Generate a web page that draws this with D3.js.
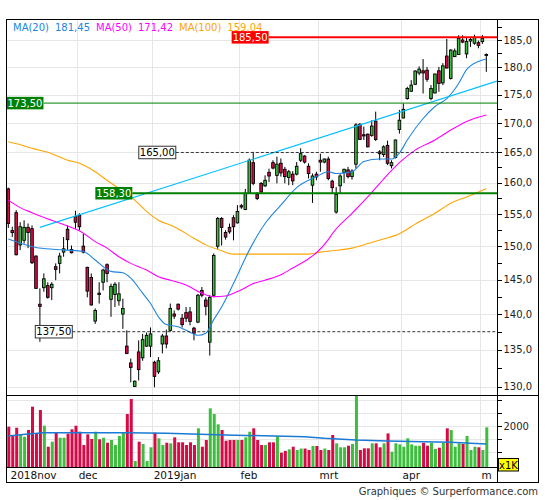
<!DOCTYPE html>
<html><head><meta charset="utf-8">
<script src="https://cdn.jsdelivr.net/npm/d3@7"></script>
<style>body{margin:0;background:#fff}svg{display:block}text{font-family:"DejaVu Sans",Verdana,sans-serif}</style>
</head><body><svg id="c" width="545" height="500"></svg>
<script>
// ---------- DATA ----------
const holidays = ["2018-12-25","2018-12-26","2019-01-01","2019-04-19","2019-04-22","2019-05-01"];
const fmtDay = d3.utcFormat("%Y-%m-%d");
const dates = d3.utcDay.range(new Date(Date.UTC(2018,10,7)), new Date(Date.UTC(2019,4,4)))
  .filter(d => d.getUTCDay() % 6 !== 0 && !holidays.includes(fmtDay(d))).map(fmtDay);

const opens  = [159.0,152.4,155.2,150.2,150.9,152.9,152.7,148.5,141.4,143.8,144.1,143.8,146.9,147.4,149.1,152.6,149.5,154.6,154.8,150.0,
146.8,145.3,139.0,143.0,144.6,147.2,142.1,142.8,141.9,140.0,135.5,133.2,130.05,134.7,133.9,135.5,135.5,133.3,132.0,135.8,
136.9,137.7,140.0,141.4,139.4,140.2,140.3,138.0,138.85,143.4,142.0,136.05,142.7,150.0,154.3,152.1,152.9,154.4,153.6,156.3,
155.7,158.3,163.3,158.1,159.9,159.5,161.7,163.3,161.2,163.2,162.2,160.85,161.4,161.4,163.7,164.4,162.7,159.6,161.4,163.7,
163.4,163.9,160.25,155.3,159.5,161.7,162.1,161.0,163.05,169.8,168.0,168.1,167.9,170.35,165.1,164.65,166.2,162.8,164.15,168.9,
170.9,174.3,175.6,176.85,178.9,179.3,179.4,174.3,175.3,179.3,177.1,182.0,177.9,181.9,182.3,185.0,182.4,184.8,184.4,184.5,
184.7,182.1];
const highs  = [159.2,153.0,155.6,153.7,154.0,153.5,153.2,148.6,143.7,145.9,144.6,144.6,147.4,149.0,151.4,153.2,150.1,155.5,155.1,151.9,
146.9,145.9,140.8,144.6,146.6,147.4,144.4,144.6,144.6,142.2,137.7,133.8,130.85,136.3,137.2,137.4,138.1,133.5,134.0,137.2,
137.8,141.5,140.5,141.5,140.0,141.0,141.0,138.2,142.9,143.9,142.4,142.7,148.9,154.5,154.5,152.45,153.5,154.8,156.4,156.6,
159.0,164.0,165.1,158.5,160.1,161.2,162.3,163.7,164.3,164.0,162.6,162.1,161.9,163.4,165.7,164.55,163.2,161.5,161.8,164.8,
164.0,164.3,160.5,159.3,161.4,162.3,162.6,162.2,170.0,170.0,169.4,168.2,170.5,172.0,165.4,166.2,167.0,163.7,167.2,172.3,
173.45,176.4,177.6,179.4,180.1,181.45,180.0,176.7,178.8,180.0,180.7,185.2,183.3,183.4,185.9,185.9,185.5,185.4,186.0,184.9,
185.95,182.5];
const lows   = [152.8,151.4,148.6,149.4,150.4,149.7,147.3,143.6,136.1,143.2,142.2,142.0,144.9,145.9,148.4,149.4,148.9,152.7,152.45,148.9,
142.4,141.2,138.6,141.5,143.4,144.6,139.6,141.0,141.2,137.9,134.4,130.6,130.0,130.85,133.5,135.4,134.0,129.95,131.7,134.5,
135.2,137.5,139.3,140.5,138.1,138.85,138.4,136.3,138.7,142.4,139.8,134.2,142.4,149.6,150.1,151.0,151.9,150.9,153.5,155.8,
155.6,158.2,159.6,157.2,158.3,159.3,160.1,162.2,159.9,161.0,159.9,159.6,159.6,161.2,163.4,163.15,160.7,156.75,160.4,161.8,
163.2,160.4,158.25,155.05,158.25,159.95,160.7,160.5,162.35,167.1,167.1,165.85,167.65,166.95,163.7,164.25,162.9,162.35,164.0,168.2,
170.8,174.1,175.5,176.7,178.5,175.2,177.3,174.0,175.2,175.5,176.7,179.7,177.7,181.8,182.2,184.4,181.6,183.7,184.1,183.45,
184.25,179.1];
const closes = [153.5,152.1,148.7,153.0,152.9,152.1,147.5,143.7,141.1,145.1,142.4,144.3,146.5,148.5,149.6,151.0,149.0,153.7,153.0,149.1,
143.3,141.3,140.5,142.8,146.4,145.9,144.0,144.3,142.9,140.8,134.5,132.6,130.75,132.3,136.4,137.0,137.2,131.4,133.5,136.9,
135.8,140.8,139.7,140.7,138.5,139.4,138.95,137.3,142.7,142.7,141.1,142.4,148.6,154.3,152.9,151.4,152.2,153.0,155.4,156.1,
158.3,163.7,159.9,157.45,158.5,160.4,161.1,162.4,163.05,161.6,161.0,161.8,160.3,162.7,164.8,163.4,161.5,161.1,160.95,163.4,
163.9,160.7,159.2,158.1,161.1,162.2,161.0,161.9,169.7,167.2,167.8,165.95,169.5,167.2,164.8,165.95,163.2,163.3,167.1,170.5,
172.4,176.1,176.7,179.25,179.6,178.9,177.75,176.1,178.7,177.0,180.2,179.8,183.1,182.95,185.3,184.6,184.7,185.1,185.5,184.0,
185.3,182.3];
const volumes = [1970,1651,1931,1651,1585,1843,2740,1712,2612,2008,1201,1393,1739,1547,1547,1701,1870,2008,1778,1266,
1678,1497,1778,1485,1547,1355,1458,1266,1612,1739,2458,3035,650,1393,1305,650,1178,1739,1524,1266,
1355,1331,1562,1370,1370,1266,1370,1266,1908,1201,1458,2678,2458,2062,1843,1431,1458,1458,1458,1458,
1562,1778,1908,1458,1266,1266,1370,1370,1600,970,1040,1100,1201,1074,1130,1130,1074,1228,1228,1074,
1130,1074,1651,1331,1178,1178,1240,1305,3150,1074,1139,1139,1331,1331,1178,1331,1712,1009,1331,1290,
1200,1524,1290,1240,1240,1350,1240,1350,1112,1162,1350,1908,1843,1200,1331,1305,1612,1074,1200,1178,
1074,1946];
// moving averages: [day index, value]
const ma20 = [[0,151.1],[7,149.8],[12,149.5],[19,149.2],[22,147.9],[26,146.2],[29,146.0],[31,145.2],[34,143.0],[36,141.5],[38,139.6],[40,138.5],[43,138.2],[45,137.7],[48,137.0],[50,137.3],[52,139.2],[54,141.0],[57,144.4],[61,149.4],[65,153.5],[69,156.4],[73,159.2],[78,161.0],[81,161.8],[83,161.5],[87,161.8],[90,163.5],[94,163.9],[97,163.9],[99,164.9],[101,167.1],[105,170.8],[108,172.9],[111,174.3],[114,177.0],[116,179.5],[119,181.0],[121,181.45]];
const ma50 = [[0,157.2],[3,156.0],[6,155.2],[11,154.0],[15,153.1],[19,152.0],[22,150.7],[25,149.7],[28,148.4],[31,147.4],[35,146.4],[38,145.4],[41,144.9],[45,144.2],[49,143.0],[52,142.5],[55,142.6],[59,143.5],[62,144.4],[65,144.9],[69,145.7],[72,146.7],[76,148.1],[78,149.0],[81,151.0],[82,151.9],[87,155.1],[91,157.7],[95,160.6],[99,163.3],[103,165.4],[108,167.1],[112,168.8],[116,170.3],[121,171.42]];
const ma100 = [[0,166.8],[3,166.3],[6,165.7],[11,164.8],[15,163.7],[18,163.2],[22,161.8],[25,160.4],[27,159.5],[32,157.2],[35,155.4],[38,154.0],[42,153.0],[47,151.2],[50,150.2],[54,149.3],[57,148.8],[62,148.8],[70,148.8],[76,148.8],[79,149.1],[82,149.3],[87,149.7],[91,150.4],[95,151.1],[99,151.9],[103,153.4],[108,155.1],[112,156.7],[116,157.7],[121,159.04]];
const volMA = [[0,1612],[5,1689],[9,1739],[30,1739],[40,1716],[55,1651],[75,1585],[80,1524],[88,1458],[96,1420],[105,1393],[112,1370],[117,1331],[121,1305]];
const trend = [[8,152.9],[121,176.8]];
const levelValues = [185.5, 173.5, 165.0, 158.3, 137.5];
const levelStart  = [65.9, 8.9, 42.4, 31.4, 16.2];
const levelKind   = ["red","green","dash","greenBold","dash"];
const monthNames = ["jan","feb","mrt","apr","mei","jun","jul","aug","sep","okt","nov","dec"];
const priceTicks = d3.range(130, 186, 5);
const volTicks = [1000,1500,2000,2500,3000];
const volLabelTicks = [2000];
const maNames = ["MA(20)","MA(50)","MA(100)"];

// ---------- CHART ----------
const svg = d3.select("#c");
const W=545, H=500, L=7, R=497, T=20, PB=395, VB=467;
const RED="#D60A46", GREEN="#3EBE3E", C20="#2085E0", C50="#FF00FF", C100="#FFA500", TREND="#00BFFF", DG="#008000";
const comma = f => v => d3.format(f)(v).replace(".", ",");

svg.append("rect").attr("width",W).attr("height",H).attr("fill","#fff");
const defs = svg.append("defs");
defs.append("clipPath").attr("id","cp").append("rect").attr("x",L).attr("y",T).attr("width",R-L).attr("height",PB-T);
defs.append("clipPath").attr("id","cv").append("rect").attr("x",L).attr("y",PB).attr("width",R-L).attr("height",VB-PB);
defs.append("clipPath").attr("id","cl").append("rect").attr("x",L).attr("y",VB).attr("width",491.5-L).attr("height",20);

const x = d3.scalePoint().domain(dates).range([8.3, 486.3]);
const step = x.step();
const xi = i => x(dates[0]) + i*step;
const y = d3.scaleLog().domain([128.93, 188.8]).range([PB, T]);
const yv = d3.scaleLinear().domain([420, 3190]).range([VB, PB]);

// grid
const grid = svg.append("g").attr("stroke","#e6e6e6").attr("stroke-width",1);
priceTicks.forEach(v => grid.append("line").attr("x1",L).attr("x2",R).attr("y1",Math.round(y(v))+0.5).attr("y2",Math.round(y(v))+0.5));
volTicks.forEach(v => grid.append("line").attr("x1",L).attr("x2",R).attr("y1",Math.round(yv(v))+0.5).attr("y2",Math.round(yv(v))+0.5));
const months = [];
dates.forEach((d,i) => {
  const m = +d.slice(5,7)-1, yr = d.slice(0,4);
  if (i===0 || m !== +dates[i-1].slice(5,7)-1) months.push({i, label:(i===0||m===0?yr:"")+monthNames[m]});
});
months.forEach(mo => {
  if (mo.i===0) { mo.gx = L; return; }
  mo.gx = xi(mo.i) - 0.7*step;
  grid.append("line").attr("x1",Math.round(mo.gx)+0.5).attr("x2",Math.round(mo.gx)+0.5).attr("y1",T).attr("y2",VB);
});

// candles
const gp = svg.append("g").attr("clip-path","url(#cp)");
const idx = d3.range(dates.length);
gp.selectAll("line.w").data(idx).join("line").attr("class","w")
  .attr("x1",i=>xi(i)).attr("x2",i=>xi(i)).attr("y1",i=>y(highs[i])).attr("y2",i=>y(lows[i]))
  .attr("stroke","#000").attr("stroke-width",1);
gp.selectAll("rect.b").data(idx).join("rect").attr("class","b")
  .attr("x",i=>xi(i)-1.3).attr("width",2.6)
  .attr("y",i=>y(Math.max(opens[i],closes[i])))
  .attr("height",i=>Math.max(0.8, Math.abs(y(opens[i])-y(closes[i]))))
  .attr("fill",i=>closes[i]>=opens[i]?GREEN:RED).attr("stroke","#000").attr("stroke-width",0.9);

// MA lines
const line = d3.line().x(d=>xi(d[0])).y(d=>y(d[1])).curve(d3.curveMonotoneX);
[[ma100,C100],[ma50,C50],[ma20,C20]].forEach(([s,c]) =>
  gp.append("path").attr("d",line(s)).attr("fill","none").attr("stroke",c).attr("stroke-width",1.1));

// trend line extended to right edge
{
  const [a,b] = trend.map(d=>[xi(d[0]), y(d[1])]);
  const k = (b[1]-a[1])/(b[0]-a[0]);
  gp.append("line").attr("x1",a[0]).attr("y1",a[1]).attr("x2",R).attr("y2",a[1]+k*(R-a[0]))
    .attr("stroke",TREND).attr("stroke-width",1.1);
}

// levels
levelValues.forEach((v,j) => {
  const kind = levelKind[j], yy = y(v), xs = xi(levelStart[j]);
  const l = svg.append("line").attr("x1",xs).attr("x2",R).attr("y1",yy).attr("y2",yy);
  if (kind==="red") l.attr("stroke","#FF0000").attr("stroke-width",2);
  else if (kind==="green") l.attr("stroke",DG).attr("stroke-width",1);
  else if (kind==="greenBold") l.attr("stroke",DG).attr("stroke-width",2);
  else l.attr("stroke","#333").attr("stroke-width",1).attr("stroke-dasharray","3,2");
  const bw = 37, bh = 12.5;
  const fill = kind==="red" ? "#FF0000" : (kind==="dash" ? "#fff" : DG);
  svg.append("rect").attr("x",xs-bw).attr("y",yy-bh/2).attr("width",bw).attr("height",bh)
    .attr("fill",fill).attr("stroke",kind==="dash"?"#333":"none").attr("stroke-width",1);
  svg.append("text").attr("x",xs-bw/2).attr("y",yy).attr("dy","0.36em").attr("text-anchor","middle")
    .attr("font-size",10).attr("fill",kind==="dash"?"#000":"#fff").text(comma(".2f")(v));
});

// volume
const gv = svg.append("g").attr("clip-path","url(#cv)");
gv.selectAll("rect").data(idx).join("rect")
  .attr("x",i=>xi(i)-1).attr("width",3)
  .attr("y",i=>yv(volumes[i])).attr("height",i=>VB-yv(volumes[i]))
  .attr("fill",i=>closes[i]>=opens[i]?GREEN:RED);
gv.append("path").attr("d",d3.line().x(d=>xi(d[0])).y(d=>yv(d[1]))(volMA))
  .attr("fill","none").attr("stroke","#1a7ad4").attr("stroke-width",1.5);

// axes
const ax = svg.append("g");
ax.append("line").attr("x1",L).attr("x2",W-7).attr("y1",PB+0.5).attr("y2",PB+0.5).attr("stroke","#000");
ax.append("line").attr("x1",L).attr("x2",R).attr("y1",VB+0.5).attr("y2",VB+0.5).attr("stroke","#000");
ax.append("line").attr("x1",R+0.5).attr("x2",R+0.5).attr("y1",T).attr("y2",482).attr("stroke","#000");
d3.range(130, 189, 2.5).forEach(v => {
  const yy = Math.round(y(v))+0.5;
  ax.append("line").attr("x1",R).attr("x2",R+5).attr("y1",yy).attr("y2",yy).attr("stroke","#000");
});
priceTicks.forEach(v => ax.append("text").attr("x",503.5).attr("y",y(v)).attr("dy","0.36em")
  .attr("font-size",10).attr("fill","#222").text(comma(".1f")(v)));
volTicks.forEach(v => {
  const yy = Math.round(yv(v))+0.5;
  ax.append("line").attr("x1",R).attr("x2",R+5).attr("y1",yy).attr("y2",yy).attr("stroke","#000");
});
volLabelTicks.forEach(v => ax.append("text").attr("x",503.5).attr("y",yv(v)).attr("dy","0.36em")
  .attr("font-size",10).attr("fill","#222").text(v));
ax.append("rect").attr("x",498.5).attr("y",458.5).attr("width",20).attr("height",12.5).attr("fill","#FFFF00").attr("stroke","#000");
ax.append("text").attr("x",508.5).attr("y",465).attr("dy","0.36em").attr("text-anchor","middle").attr("font-size",10).text("x1K");

// month labels
const gl = svg.append("g").attr("clip-path","url(#cl)");
months.forEach(mo => gl.append("text").attr("x",mo.i===0?10.5:mo.gx+2).attr("y",479)
  .attr("font-size",10.5).attr("fill","#111").text(mo.label));

// frame
svg.append("rect").attr("x",6.5).attr("y",19.5).attr("width",532).attr("height",463)
  .attr("fill","none").attr("stroke","#000").attr("stroke-width",1);

// legend
{
  const items = [[maNames[0],C20],[comma(".2f")(ma20[ma20.length-1][1]),C20],
                 [maNames[1],C50],[comma(".2f")(ma50[ma50.length-1][1]),C50],
                 [maNames[2],C100],[comma(".2f")(ma100[ma100.length-1][1]),C100]];
  let cx = 13;
  items.forEach(([t,c]) => {
    const tx = svg.append("text").attr("x",cx).attr("y",30.5).attr("font-size",10).attr("fill",c).text(t);
    cx += tx.node().getComputedTextLength() + 6;
  });
}
svg.append("text").attr("x",538).attr("y",495).attr("text-anchor","end").attr("font-size",10)
  .attr("fill","#333").text("Graphiques © Surperformance.com");
</script></body></html>
